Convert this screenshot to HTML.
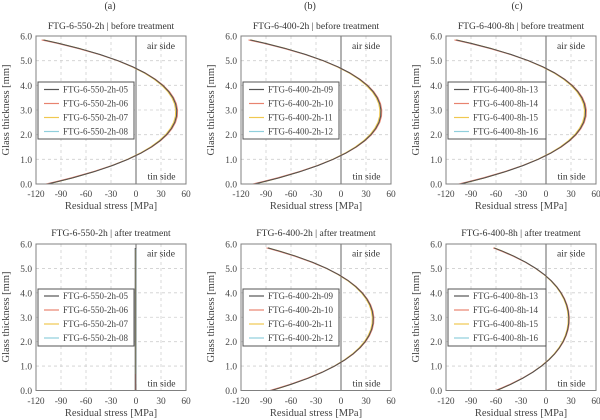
<!DOCTYPE html>
<html>
<head>
<meta charset="utf-8">
<style>
html,body{margin:0;padding:0;background:#fff;}
svg{display:block;}
text{font-family:"Liberation Serif","DejaVu Serif",serif;}
.tl{font-size:9.6px;fill:#333;text-anchor:middle;}
.tk{font-size:9.4px;fill:#444;}
.ax{font-size:10.5px;fill:#444;text-anchor:middle;}
.lg{font-size:9px;fill:#444;}
.sd{font-size:9.6px;fill:#333;text-anchor:end;}
.lab{font-size:10px;fill:#333;text-anchor:middle;}
.grid{stroke:#cfcfcf;stroke-width:0.8;stroke-dasharray:3,3;fill:none;}
.frame{stroke:#808080;stroke-width:1;fill:none;}
.zero{stroke:#666;stroke-width:1;}
</style>
</head>
<body>
<svg width="600" height="420" viewBox="0 0 600 420" xmlns="http://www.w3.org/2000/svg">
<defs>
<path id="cv" fill="none" vector-effect="non-scaling-stroke" stroke-linejoin="round" d="M-106,0 L-93.5,0.1 L-75.9,0.25 L-50.1,0.5 L-28.1,0.75 L-9.6,1 L5.8,1.25 L18.5,1.5 L28.7,1.75 L36.7,2 L42.5,2.25 L46.5,2.5 L48.6,2.75 L48.9,3 L47.5,3.25 L44.3,3.5 L39.2,3.75 L32.1,4 L22.7,4.25 L10.9,4.5 L-3.8,4.75 L-21.6,5 L-43.1,5.25 L-68.7,5.5 L-92.5,5.7 L-111,5.84"/>
<g id="series">
  <g transform="translate(-0.4,0)"><use href="#cv" stroke="#8fcfdc" stroke-width="1.1"/></g>
  <g transform="translate(-0.8,0) scale(0.99,1)"><use href="#cv" stroke="#f0c850" stroke-width="1.1"/></g>
  <g transform="scale(1.02,1)"><use href="#cv" stroke="#e8836f" stroke-width="1.1"/></g>
  <use href="#cv" stroke="#505050" stroke-width="1"/>
</g>
</defs>
<rect width="600" height="420" fill="#fff"/>

<!-- ===== Panel a top ===== -->
<g transform="translate(36,36)">
  <text class="lab" x="74" y="-27">(a)</text>
  <text class="tl" x="75" y="-7">FTG-6-550-2h | before treatment</text>
  <g class="grid">
    <line x1="25" y1="0" x2="25" y2="148"/><line x1="50" y1="0" x2="50" y2="148"/><line x1="75" y1="0" x2="75" y2="148"/><line x1="125" y1="0" x2="125" y2="148"/>
    <line x1="0" y1="24.67" x2="150" y2="24.67"/><line x1="0" y1="49.33" x2="150" y2="49.33"/><line x1="0" y1="74" x2="150" y2="74"/><line x1="0" y1="98.67" x2="150" y2="98.67"/><line x1="0" y1="123.33" x2="150" y2="123.33"/>
  </g>
  <line class="zero" x1="100" y1="0" x2="100" y2="148"/>
  <g transform="translate(100,148) scale(0.8333,-24.667)"><use href="#series"/></g>
  <rect class="frame" x="0" y="0" width="150" height="148"/>
  <text class="sd" x="139" y="13">air side</text>
  <text class="sd" x="139.5" y="143.5">tin side</text>
  <rect x="2" y="46" width="96" height="57" fill="#fff" stroke="#555" stroke-width="1"/>
  <line x1="8" y1="53.5" x2="23" y2="53.5" stroke="#555" stroke-width="1.2"/>
  <line x1="8" y1="67.5" x2="23" y2="67.5" stroke="#e8836f" stroke-width="1.2"/>
  <line x1="8" y1="81.5" x2="23" y2="81.5" stroke="#f0c850" stroke-width="1.2"/>
  <line x1="8" y1="95.5" x2="23" y2="95.5" stroke="#8fcfdc" stroke-width="1.2"/>
  <text class="lg" x="27" y="56.5">FTG-6-550-2h-05</text>
  <text class="lg" x="27" y="70.5">FTG-6-550-2h-06</text>
  <text class="lg" x="27" y="84.5">FTG-6-550-2h-07</text>
  <text class="lg" x="27" y="98.5">FTG-6-550-2h-08</text>
  <g class="tk" text-anchor="middle">
    <text x="0" y="161">-120</text><text x="25" y="161">-90</text><text x="50" y="161">-60</text><text x="75" y="161">-30</text><text x="100" y="161">0</text><text x="125" y="161">30</text><text x="150" y="161">60</text>
  </g>
  <g class="tk" text-anchor="end">
    <text x="-4" y="151.5">0.0</text><text x="-4" y="126.8">1.0</text><text x="-4" y="102.2">2.0</text><text x="-4" y="77.5">3.0</text><text x="-4" y="52.8">4.0</text><text x="-4" y="28.2">5.0</text><text x="-4" y="3.5">6.0</text>
  </g>
  <text class="ax" x="75" y="173">Residual stress [MPa]</text>
  <text class="ax" transform="translate(-27,74) rotate(-90)">Glass thickness [mm]</text>
</g>

<!-- ===== Panel b top ===== -->
<g transform="translate(241,36)">
  <text class="lab" x="69" y="-27">(b)</text>
  <text class="tl" x="75" y="-7">FTG-6-400-2h | before treatment</text>
  <g class="grid">
    <line x1="25" y1="0" x2="25" y2="148"/><line x1="50" y1="0" x2="50" y2="148"/><line x1="75" y1="0" x2="75" y2="148"/><line x1="125" y1="0" x2="125" y2="148"/>
    <line x1="0" y1="24.67" x2="150" y2="24.67"/><line x1="0" y1="49.33" x2="150" y2="49.33"/><line x1="0" y1="74" x2="150" y2="74"/><line x1="0" y1="98.67" x2="150" y2="98.67"/><line x1="0" y1="123.33" x2="150" y2="123.33"/>
  </g>
  <line class="zero" x1="100" y1="0" x2="100" y2="148"/>
  <g transform="translate(100,148) scale(0.8167,-24.667)"><use href="#series"/></g>
  <rect class="frame" x="0" y="0" width="150" height="148"/>
  <text class="sd" x="139" y="13">air side</text>
  <text class="sd" x="139.5" y="143.5">tin side</text>
  <rect x="2" y="46" width="96" height="57" fill="#fff" stroke="#555" stroke-width="1"/>
  <line x1="8" y1="53.5" x2="23" y2="53.5" stroke="#555" stroke-width="1.2"/>
  <line x1="8" y1="67.5" x2="23" y2="67.5" stroke="#e8836f" stroke-width="1.2"/>
  <line x1="8" y1="81.5" x2="23" y2="81.5" stroke="#f0c850" stroke-width="1.2"/>
  <line x1="8" y1="95.5" x2="23" y2="95.5" stroke="#8fcfdc" stroke-width="1.2"/>
  <text class="lg" x="27" y="56.5">FTG-6-400-2h-09</text>
  <text class="lg" x="27" y="70.5">FTG-6-400-2h-10</text>
  <text class="lg" x="27" y="84.5">FTG-6-400-2h-11</text>
  <text class="lg" x="27" y="98.5">FTG-6-400-2h-12</text>
  <g class="tk" text-anchor="middle">
    <text x="0" y="161">-120</text><text x="25" y="161">-90</text><text x="50" y="161">-60</text><text x="75" y="161">-30</text><text x="100" y="161">0</text><text x="125" y="161">30</text><text x="150" y="161">60</text>
  </g>
  <g class="tk" text-anchor="end">
    <text x="-4" y="151.5">0.0</text><text x="-4" y="126.8">1.0</text><text x="-4" y="102.2">2.0</text><text x="-4" y="77.5">3.0</text><text x="-4" y="52.8">4.0</text><text x="-4" y="28.2">5.0</text><text x="-4" y="3.5">6.0</text>
  </g>
  <text class="ax" x="75" y="173">Residual stress [MPa]</text>
  <text class="ax" transform="translate(-27,74) rotate(-90)">Glass thickness [mm]</text>
</g>

<!-- ===== Panel c top ===== -->
<g transform="translate(446,36)">
  <text class="lab" x="71" y="-27">(c)</text>
  <text class="tl" x="75" y="-7">FTG-6-400-8h | before treatment</text>
  <g class="grid">
    <line x1="25" y1="0" x2="25" y2="148"/><line x1="50" y1="0" x2="50" y2="148"/><line x1="75" y1="0" x2="75" y2="148"/><line x1="125" y1="0" x2="125" y2="148"/>
    <line x1="0" y1="24.67" x2="150" y2="24.67"/><line x1="0" y1="49.33" x2="150" y2="49.33"/><line x1="0" y1="74" x2="150" y2="74"/><line x1="0" y1="98.67" x2="150" y2="98.67"/><line x1="0" y1="123.33" x2="150" y2="123.33"/>
  </g>
  <line class="zero" x1="100" y1="0" x2="100" y2="148"/>
  <g transform="translate(100,148) scale(0.8083,-24.667)"><use href="#series"/></g>
  <rect class="frame" x="0" y="0" width="150" height="148"/>
  <text class="sd" x="139" y="13">air side</text>
  <text class="sd" x="139.5" y="143.5">tin side</text>
  <rect x="2" y="46" width="98" height="57" fill="#fff" stroke="#555" stroke-width="1"/>
  <line x1="8" y1="53.5" x2="23" y2="53.5" stroke="#555" stroke-width="1.2"/>
  <line x1="8" y1="67.5" x2="23" y2="67.5" stroke="#e8836f" stroke-width="1.2"/>
  <line x1="8" y1="81.5" x2="23" y2="81.5" stroke="#f0c850" stroke-width="1.2"/>
  <line x1="8" y1="95.5" x2="23" y2="95.5" stroke="#8fcfdc" stroke-width="1.2"/>
  <text class="lg" x="27" y="56.5">FTG-6-400-8h-13</text>
  <text class="lg" x="27" y="70.5">FTG-6-400-8h-14</text>
  <text class="lg" x="27" y="84.5">FTG-6-400-8h-15</text>
  <text class="lg" x="27" y="98.5">FTG-6-400-8h-16</text>
  <g class="tk" text-anchor="middle">
    <text x="0" y="161">-120</text><text x="25" y="161">-90</text><text x="50" y="161">-60</text><text x="75" y="161">-30</text><text x="100" y="161">0</text><text x="125" y="161">30</text><text x="150" y="161">60</text>
  </g>
  <g class="tk" text-anchor="end">
    <text x="-4" y="151.5">0.0</text><text x="-4" y="126.8">1.0</text><text x="-4" y="102.2">2.0</text><text x="-4" y="77.5">3.0</text><text x="-4" y="52.8">4.0</text><text x="-4" y="28.2">5.0</text><text x="-4" y="3.5">6.0</text>
  </g>
  <text class="ax" x="75" y="173">Residual stress [MPa]</text>
  <text class="ax" transform="translate(-27,74) rotate(-90)">Glass thickness [mm]</text>
</g>

<!-- ===== Panel a bottom ===== -->
<g transform="translate(36,244)">
  <text class="tl" x="75" y="-8">FTG-6-550-2h | after treatment</text>
  <g class="grid">
    <line x1="25" y1="0" x2="25" y2="146.5"/><line x1="50" y1="0" x2="50" y2="146.5"/><line x1="75" y1="0" x2="75" y2="146.5"/><line x1="125" y1="0" x2="125" y2="146.5"/>
    <line x1="0" y1="24.42" x2="150" y2="24.42"/><line x1="0" y1="48.83" x2="150" y2="48.83"/><line x1="0" y1="73.25" x2="150" y2="73.25"/><line x1="0" y1="97.67" x2="150" y2="97.67"/><line x1="0" y1="122.08" x2="150" y2="122.08"/>
  </g>
  <line class="zero" x1="100" y1="0" x2="100" y2="146.5"/>
  <line x1="99.6" y1="5" x2="99.6" y2="140" stroke="#8fcfdc" stroke-width="1"/>
  <line x1="99.4" y1="6" x2="99.4" y2="130" stroke="#f0c850" stroke-width="0.8"/>
  <line x1="99.5" y1="130" x2="99.5" y2="146.5" stroke="#e8836f" stroke-width="1.1"/>
  <line x1="99.2" y1="4" x2="99.2" y2="146.5" stroke="#555" stroke-width="1"/>
  <rect class="frame" x="0" y="0" width="150" height="146.5"/>
  <text class="sd" x="139" y="12.5">air side</text>
  <text class="sd" x="139.5" y="142.5">tin side</text>
  <rect x="2" y="45" width="96" height="57" fill="#fff" stroke="#555" stroke-width="1"/>
  <line x1="8" y1="52" x2="23" y2="52" stroke="#555" stroke-width="1.2"/>
  <line x1="8" y1="66" x2="23" y2="66" stroke="#e8836f" stroke-width="1.2"/>
  <line x1="8" y1="80" x2="23" y2="80" stroke="#f0c850" stroke-width="1.2"/>
  <line x1="8" y1="94" x2="23" y2="94" stroke="#8fcfdc" stroke-width="1.2"/>
  <text class="lg" x="27" y="55">FTG-6-550-2h-05</text>
  <text class="lg" x="27" y="69">FTG-6-550-2h-06</text>
  <text class="lg" x="27" y="83">FTG-6-550-2h-07</text>
  <text class="lg" x="27" y="97">FTG-6-550-2h-08</text>
  <g class="tk" text-anchor="middle">
    <text x="0" y="160">-120</text><text x="25" y="160">-90</text><text x="50" y="160">-60</text><text x="75" y="160">-30</text><text x="100" y="160">0</text><text x="125" y="160">30</text><text x="150" y="160">60</text>
  </g>
  <g class="tk" text-anchor="end">
    <text x="-4" y="150">0.0</text><text x="-4" y="125.6">1.0</text><text x="-4" y="101.2">2.0</text><text x="-4" y="76.8">3.0</text><text x="-4" y="52.3">4.0</text><text x="-4" y="27.9">5.0</text><text x="-4" y="3.5">6.0</text>
  </g>
  <text class="ax" x="75" y="172">Residual stress [MPa]</text>
  <text class="ax" transform="translate(-27,73) rotate(-90)">Glass thickness [mm]</text>
</g>

<!-- ===== Panel b bottom ===== -->
<g transform="translate(241,244)">
  <text class="tl" x="75" y="-8">FTG-6-400-2h | after treatment</text>
  <g class="grid">
    <line x1="25" y1="0" x2="25" y2="146.5"/><line x1="50" y1="0" x2="50" y2="146.5"/><line x1="75" y1="0" x2="75" y2="146.5"/><line x1="125" y1="0" x2="125" y2="146.5"/>
    <line x1="0" y1="24.42" x2="150" y2="24.42"/><line x1="0" y1="48.83" x2="150" y2="48.83"/><line x1="0" y1="73.25" x2="150" y2="73.25"/><line x1="0" y1="97.67" x2="150" y2="97.67"/><line x1="0" y1="122.08" x2="150" y2="122.08"/>
  </g>
  <line class="zero" x1="100" y1="0" x2="100" y2="146.5"/>
  <g transform="translate(100,146.5) scale(0.6583,-24.417)"><use href="#series"/></g>
  <rect class="frame" x="0" y="0" width="150" height="146.5"/>
  <text class="sd" x="139" y="12.5">air side</text>
  <text class="sd" x="139.5" y="142.5">tin side</text>
  <rect x="2" y="45" width="96" height="57" fill="#fff" stroke="#555" stroke-width="1"/>
  <line x1="8" y1="52" x2="23" y2="52" stroke="#555" stroke-width="1.2"/>
  <line x1="8" y1="66" x2="23" y2="66" stroke="#e8836f" stroke-width="1.2"/>
  <line x1="8" y1="80" x2="23" y2="80" stroke="#f0c850" stroke-width="1.2"/>
  <line x1="8" y1="94" x2="23" y2="94" stroke="#8fcfdc" stroke-width="1.2"/>
  <text class="lg" x="27" y="55">FTG-6-400-2h-09</text>
  <text class="lg" x="27" y="69">FTG-6-400-2h-10</text>
  <text class="lg" x="27" y="83">FTG-6-400-2h-11</text>
  <text class="lg" x="27" y="97">FTG-6-400-2h-12</text>
  <g class="tk" text-anchor="middle">
    <text x="0" y="160">-120</text><text x="25" y="160">-90</text><text x="50" y="160">-60</text><text x="75" y="160">-30</text><text x="100" y="160">0</text><text x="125" y="160">30</text><text x="150" y="160">60</text>
  </g>
  <g class="tk" text-anchor="end">
    <text x="-4" y="150">0.0</text><text x="-4" y="125.6">1.0</text><text x="-4" y="101.2">2.0</text><text x="-4" y="76.8">3.0</text><text x="-4" y="52.3">4.0</text><text x="-4" y="27.9">5.0</text><text x="-4" y="3.5">6.0</text>
  </g>
  <text class="ax" x="75" y="172">Residual stress [MPa]</text>
  <text class="ax" transform="translate(-27,73) rotate(-90)">Glass thickness [mm]</text>
</g>

<!-- ===== Panel c bottom ===== -->
<g transform="translate(446,244)">
  <text class="tl" x="75" y="-8">FTG-6-400-8h | after treatment</text>
  <g class="grid">
    <line x1="25" y1="0" x2="25" y2="146.5"/><line x1="50" y1="0" x2="50" y2="146.5"/><line x1="75" y1="0" x2="75" y2="146.5"/><line x1="125" y1="0" x2="125" y2="146.5"/>
    <line x1="0" y1="24.42" x2="150" y2="24.42"/><line x1="0" y1="48.83" x2="150" y2="48.83"/><line x1="0" y1="73.25" x2="150" y2="73.25"/><line x1="0" y1="97.67" x2="150" y2="97.67"/><line x1="0" y1="122.08" x2="150" y2="122.08"/>
  </g>
  <line class="zero" x1="100" y1="0" x2="100" y2="146.5"/>
  <g transform="translate(100,146.5) scale(0.4667,-24.417)"><use href="#series"/></g>
  <rect class="frame" x="0" y="0" width="150" height="146.5"/>
  <text class="sd" x="139" y="12.5">air side</text>
  <text class="sd" x="139.5" y="142.5">tin side</text>
  <rect x="2" y="45" width="98" height="57" fill="#fff" stroke="#555" stroke-width="1"/>
  <line x1="8" y1="52" x2="23" y2="52" stroke="#555" stroke-width="1.2"/>
  <line x1="8" y1="66" x2="23" y2="66" stroke="#e8836f" stroke-width="1.2"/>
  <line x1="8" y1="80" x2="23" y2="80" stroke="#f0c850" stroke-width="1.2"/>
  <line x1="8" y1="94" x2="23" y2="94" stroke="#8fcfdc" stroke-width="1.2"/>
  <text class="lg" x="27" y="55">FTG-6-400-8h-13</text>
  <text class="lg" x="27" y="69">FTG-6-400-8h-14</text>
  <text class="lg" x="27" y="83">FTG-6-400-8h-15</text>
  <text class="lg" x="27" y="97">FTG-6-400-8h-16</text>
  <g class="tk" text-anchor="middle">
    <text x="0" y="160">-120</text><text x="25" y="160">-90</text><text x="50" y="160">-60</text><text x="75" y="160">-30</text><text x="100" y="160">0</text><text x="125" y="160">30</text><text x="150" y="160">60</text>
  </g>
  <g class="tk" text-anchor="end">
    <text x="-4" y="150">0.0</text><text x="-4" y="125.6">1.0</text><text x="-4" y="101.2">2.0</text><text x="-4" y="76.8">3.0</text><text x="-4" y="52.3">4.0</text><text x="-4" y="27.9">5.0</text><text x="-4" y="3.5">6.0</text>
  </g>
  <text class="ax" x="75" y="172">Residual stress [MPa]</text>
  <text class="ax" transform="translate(-27,73) rotate(-90)">Glass thickness [mm]</text>
</g>
</svg>
</body>
</html>
